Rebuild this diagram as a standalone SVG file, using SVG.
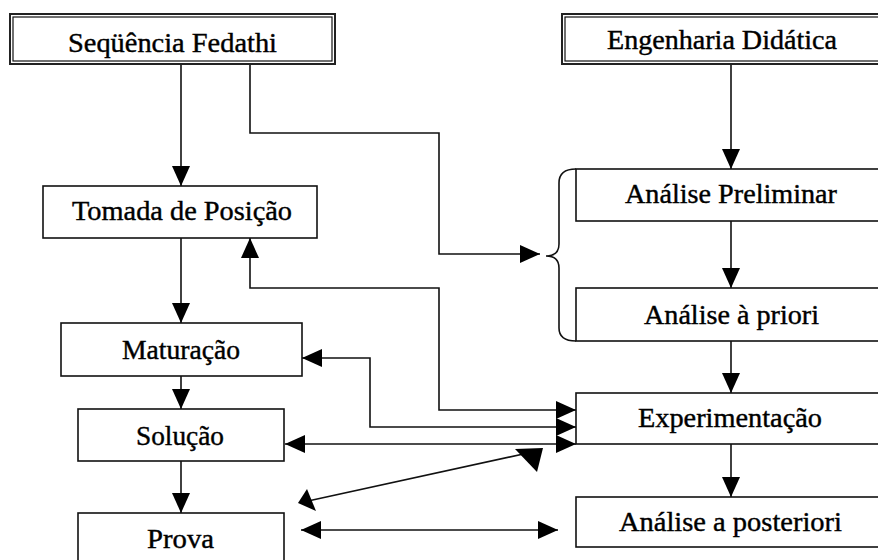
<svg xmlns="http://www.w3.org/2000/svg" width="878" height="560" viewBox="0 0 878 560">
<style>
.box{fill:#fff;stroke:#111;stroke-width:1.6}
.outer{fill:#fff;stroke:#222;stroke-width:2}
.inner{fill:none;stroke:#111;stroke-width:1.2}
.t{font-family:'Liberation Serif','DejaVu Serif',serif;font-size:27px;fill:#000;stroke:#000;stroke-width:0.4}
.c{fill:none;stroke:#111;stroke-width:1.6}
.ah{fill:#000}
</style>
<defs>
<marker id="arr" viewBox="0 0 20 18" refX="20" refY="9" markerWidth="20" markerHeight="18" markerUnits="userSpaceOnUse" orient="auto-start-reverse">
<path d="M0,0 L20,9 L0,18 z" fill="#000"/>
</marker>
</defs>
<rect width="878" height="560" fill="#fff"/>
<g id="connectors">
<path class="c" d="M181,65 V186" marker-end="url(#arr)"/>
<path class="c" d="M250,65 V133 H439 V254 H540" marker-end="url(#arr)"/>
<path class="c" d="M731,64 V169" marker-end="url(#arr)"/>
<path class="c" d="M731,221 V288" marker-end="url(#arr)"/>
<path class="c" d="M731,341 V393" marker-end="url(#arr)"/>
<path class="c" d="M731,444 V497" marker-end="url(#arr)"/>
<path class="c" d="M181,238 V323" marker-end="url(#arr)"/>
<path class="c" d="M181,376 V409" marker-end="url(#arr)"/>
<path class="c" d="M181,461 V513" marker-end="url(#arr)"/>
<path class="c" d="M250,238 V288 H439 V410 H576" marker-start="url(#arr)" marker-end="url(#arr)"/>
<path class="c" d="M302,358 H370 V427 H576" marker-start="url(#arr)" marker-end="url(#arr)"/>
<path class="c" d="M285,444 H576" marker-start="url(#arr)" marker-end="url(#arr)"/>
<path class="c" d="M301,530 H558" marker-start="url(#arr)" marker-end="url(#arr)"/>
<path class="c" d="M308,501 L528,453"/>
<polygon class="ah" points="298,503 307,489 316,511"/>
<polygon class="ah" points="515,449 543,448 537,472"/>
<path class="c" d="M576,169 Q559,169 559,183 V244 Q559,256 546,256 Q559,256 559,268 V328 Q559,341 576,341"/>
</g>
<g id="seq">
<rect class="outer" x="10" y="14" width="325" height="50"/>
<rect class="inner" x="13" y="17" width="319" height="44"/>
<text class="t" x="68" y="52" textLength="209" lengthAdjust="spacingAndGlyphs">Seqüência Fedathi</text>
</g>
<g id="eng">
<rect class="outer" x="562" y="14" width="330" height="50"/>
<rect class="inner" x="565" y="17" width="330" height="44"/>
<text class="t" x="607" y="49" textLength="230" lengthAdjust="spacingAndGlyphs">Engenharia Didática</text>
</g>
<g id="tomada">
<rect class="box" x="43" y="186" width="274" height="52"/>
<text class="t" x="72" y="220" textLength="220" lengthAdjust="spacingAndGlyphs">Tomada de Posição</text>
</g>
<g id="maturacao">
<rect class="box" x="61" y="323" width="241" height="53"/>
<text class="t" x="122" y="359" textLength="118" lengthAdjust="spacingAndGlyphs">Maturação</text>
</g>
<g id="solucao">
<rect class="box" x="78" y="409" width="206" height="52"/>
<text class="t" x="136" y="445" textLength="88" lengthAdjust="spacingAndGlyphs">Solução</text>
</g>
<g id="prova">
<rect class="box" x="78" y="513" width="206" height="60"/>
<text class="t" x="147" y="548" textLength="67" lengthAdjust="spacingAndGlyphs">Prova</text>
</g>
<g id="preliminar">
<rect class="box" x="576" y="169" width="320" height="52"/>
<text class="t" x="625" y="203" textLength="212" lengthAdjust="spacingAndGlyphs">Análise Preliminar</text>
</g>
<g id="apriori">
<rect class="box" x="576" y="288" width="320" height="53"/>
<text class="t" x="644" y="324" textLength="175" lengthAdjust="spacingAndGlyphs">Análise à priori</text>
</g>
<g id="experimentacao">
<rect class="box" x="576" y="393" width="320" height="51"/>
<text class="t" x="638" y="427" textLength="184" lengthAdjust="spacingAndGlyphs">Experimentação</text>
</g>
<g id="aposteriori">
<rect class="box" x="576" y="497" width="320" height="50"/>
<text class="t" x="619" y="531" textLength="223" lengthAdjust="spacingAndGlyphs">Análise a posteriori</text>
</g>
</svg>
